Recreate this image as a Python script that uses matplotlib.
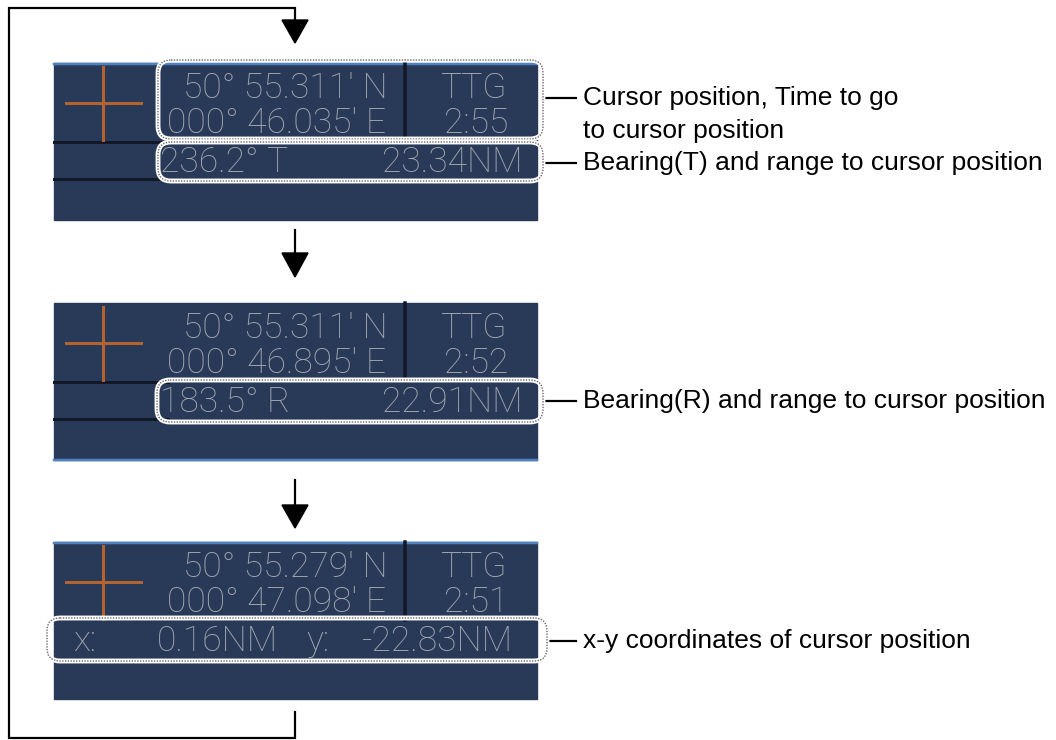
import matplotlib
matplotlib.use("Agg")
from matplotlib import pyplot as plt
from matplotlib.patches import Rectangle, FancyBboxPatch, Polygon

# readout values shown on the three screens
lat_text = ["50\u00b0 55.311' N", "50\u00b0 55.311' N", "50\u00b0 55.279' N"]
lon_text = ["000\u00b0 46.035' E", "000\u00b0 46.895' E", "000\u00b0 47.098' E"]
ttg_text = ["2:55", "2:52", "2:51"]
bearing_text = ["236.2\u00b0 T", "183.5\u00b0 R"]
range_text = ["23.34NM", "22.91NM"]
xy_text = ["x:", "0.16NM", "y:", "-22.83NM"]
callouts = [
    ["Cursor position, Time to go", "to cursor position"],
    ["Bearing(T) and range to cursor position"],
    ["Bearing(R) and range to cursor position"],
    ["x-y coordinates of cursor position"],
]

W, H = 1056, 740
PANEL_BG = "#293a59"
DARK = "#121828"
BLUE = "#4f82c0"
GREY = "#a3a7ae"
ORANGE = "#b4622e"
PX = 72.0 / 100  # points per pixel

panel_tops = [63, 303, 542]
panel_x0, panel_x1 = 54, 537
panel_h = 157

fig = plt.figure(figsize=(W / 100, H / 100), dpi=100)
ax = fig.add_axes([0, 0, 1, 1])
ax.set_xlim(0, W)
ax.set_ylim(H, 0)
ax.axis('off')

screen_font = dict(family=['Roboto', 'DejaVu Sans'], fontsize=25.5, color=GREY,
                   fontweight='light')
label_font = dict(family=['Liberation Sans', 'Arial', 'DejaVu Sans'], fontsize=19,
                  color='black')


def bubble(x0, y0, x1, y1):
    for lw, col, ls in [(3.5, 'white', '-'), (1.0, '#6a6a6a', (0, (1, 1)))]:
        p = FancyBboxPatch((x0, y0), x1 - x0, y1 - y0,
                           boxstyle="round,pad=0,rounding_size=13",
                           fill=False, edgecolor=col, lw=lw * PX * 1.39, ls=ls, zorder=5)
        ax.add_patch(p)


def arrow_down(x, y_line, y_base, y_tip, half=13):
    if y_line is not None:
        ax.plot([x, x], [y_line, y_base], color='black', lw=2.2 * PX, zorder=3)
    ax.add_patch(Polygon([[x - half, y_base], [x + half, y_base], [x, y_tip]],
                         closed=True, color='black', zorder=3))


for i, top in enumerate(panel_tops):
    ax.add_patch(Rectangle((panel_x0, top), panel_x1 - panel_x0, panel_h,
                           color=PANEL_BG, zorder=1))
    # blue edge
    if i == 1:
        ax.plot([panel_x0, panel_x1], [top + panel_h, top + panel_h], color=BLUE,
                lw=2.5 * PX, zorder=2)
    else:
        ax.plot([panel_x0, panel_x1], [top + 1, top + 1], color=BLUE, lw=2.5 * PX, zorder=2)
    # dividers
    ax.plot([405, 405], [top, top + 78], color=DARK, lw=3.5 * PX, zorder=2)
    if i < 2:
        ax.plot([panel_x0, 168], [top + 79, top + 79], color=DARK, lw=3 * PX, zorder=2)
        ax.plot([panel_x0, 168], [top + 116, top + 116], color=DARK, lw=3 * PX, zorder=2)
    # cursor cross
    ax.plot([103, 103], [top + 4, top + 77], color=ORANGE, lw=3 * PX, zorder=2)
    ax.plot([66, 141], [top + 40, top + 40], color=ORANGE, lw=3 * PX, zorder=2)
    # readouts
    ax.text(388, top + 25, lat_text[i], ha='right', va='center', zorder=4, **screen_font)
    ax.text(386, top + 60, lon_text[i], ha='right', va='center', zorder=4, **screen_font)
    ax.text(473, top + 25, "TTG", ha='center', va='center', zorder=4, **screen_font)
    ax.text(476, top + 60, ttg_text[i], ha='center', va='center', zorder=4, **screen_font)

# third row of each screen
for i in range(2):
    top = panel_tops[i]
    ax.text(160, top + 99, bearing_text[i], ha='left', va='center', zorder=4, **screen_font)
    ax.text(522, top + 99, range_text[i], ha='right', va='center', zorder=4, **screen_font)
top = panel_tops[2]
ax.text(73, top + 99, xy_text[0], ha='left', va='center', zorder=4, **screen_font)
ax.text(278, top + 99, xy_text[1], ha='right', va='center', zorder=4, **screen_font)
ax.text(306, top + 99, xy_text[2], ha='left', va='center', zorder=4, **screen_font)
ax.text(513, top + 99, xy_text[3], ha='right', va='center', zorder=4, **screen_font)

# dotted highlight bubbles
bubble(158, 60, 543, 139)
bubble(158, 142, 543, 181)
bubble(157, 380, 543, 422)
bubble(47, 618, 547, 661)

# callout leaders and labels
leader_y = [98, 163, 401, 641]
leader_x0 = [545, 545, 545, 549]
for y, x0, lines in zip(leader_y, leader_x0, callouts):
    ax.plot([x0, 576], [y, y], color='black', lw=2.2 * PX, zorder=3)
    for k, s in enumerate(lines):
        ax.text(583, y + k * 33, s, ha='left', va='center', **label_font)

# loop back line with arrows
ax.plot([295, 295, 9, 9, 295, 295], [20, 8, 8, 738, 738, 712], color='black',
        lw=2.2 * PX, zorder=3, solid_joinstyle='miter')
arrow_down(295, None, 20, 43)
arrow_down(295, 230, 253, 277)
arrow_down(295, 480, 505, 528)

fig.savefig("out.png", dpi=100, facecolor='white')
